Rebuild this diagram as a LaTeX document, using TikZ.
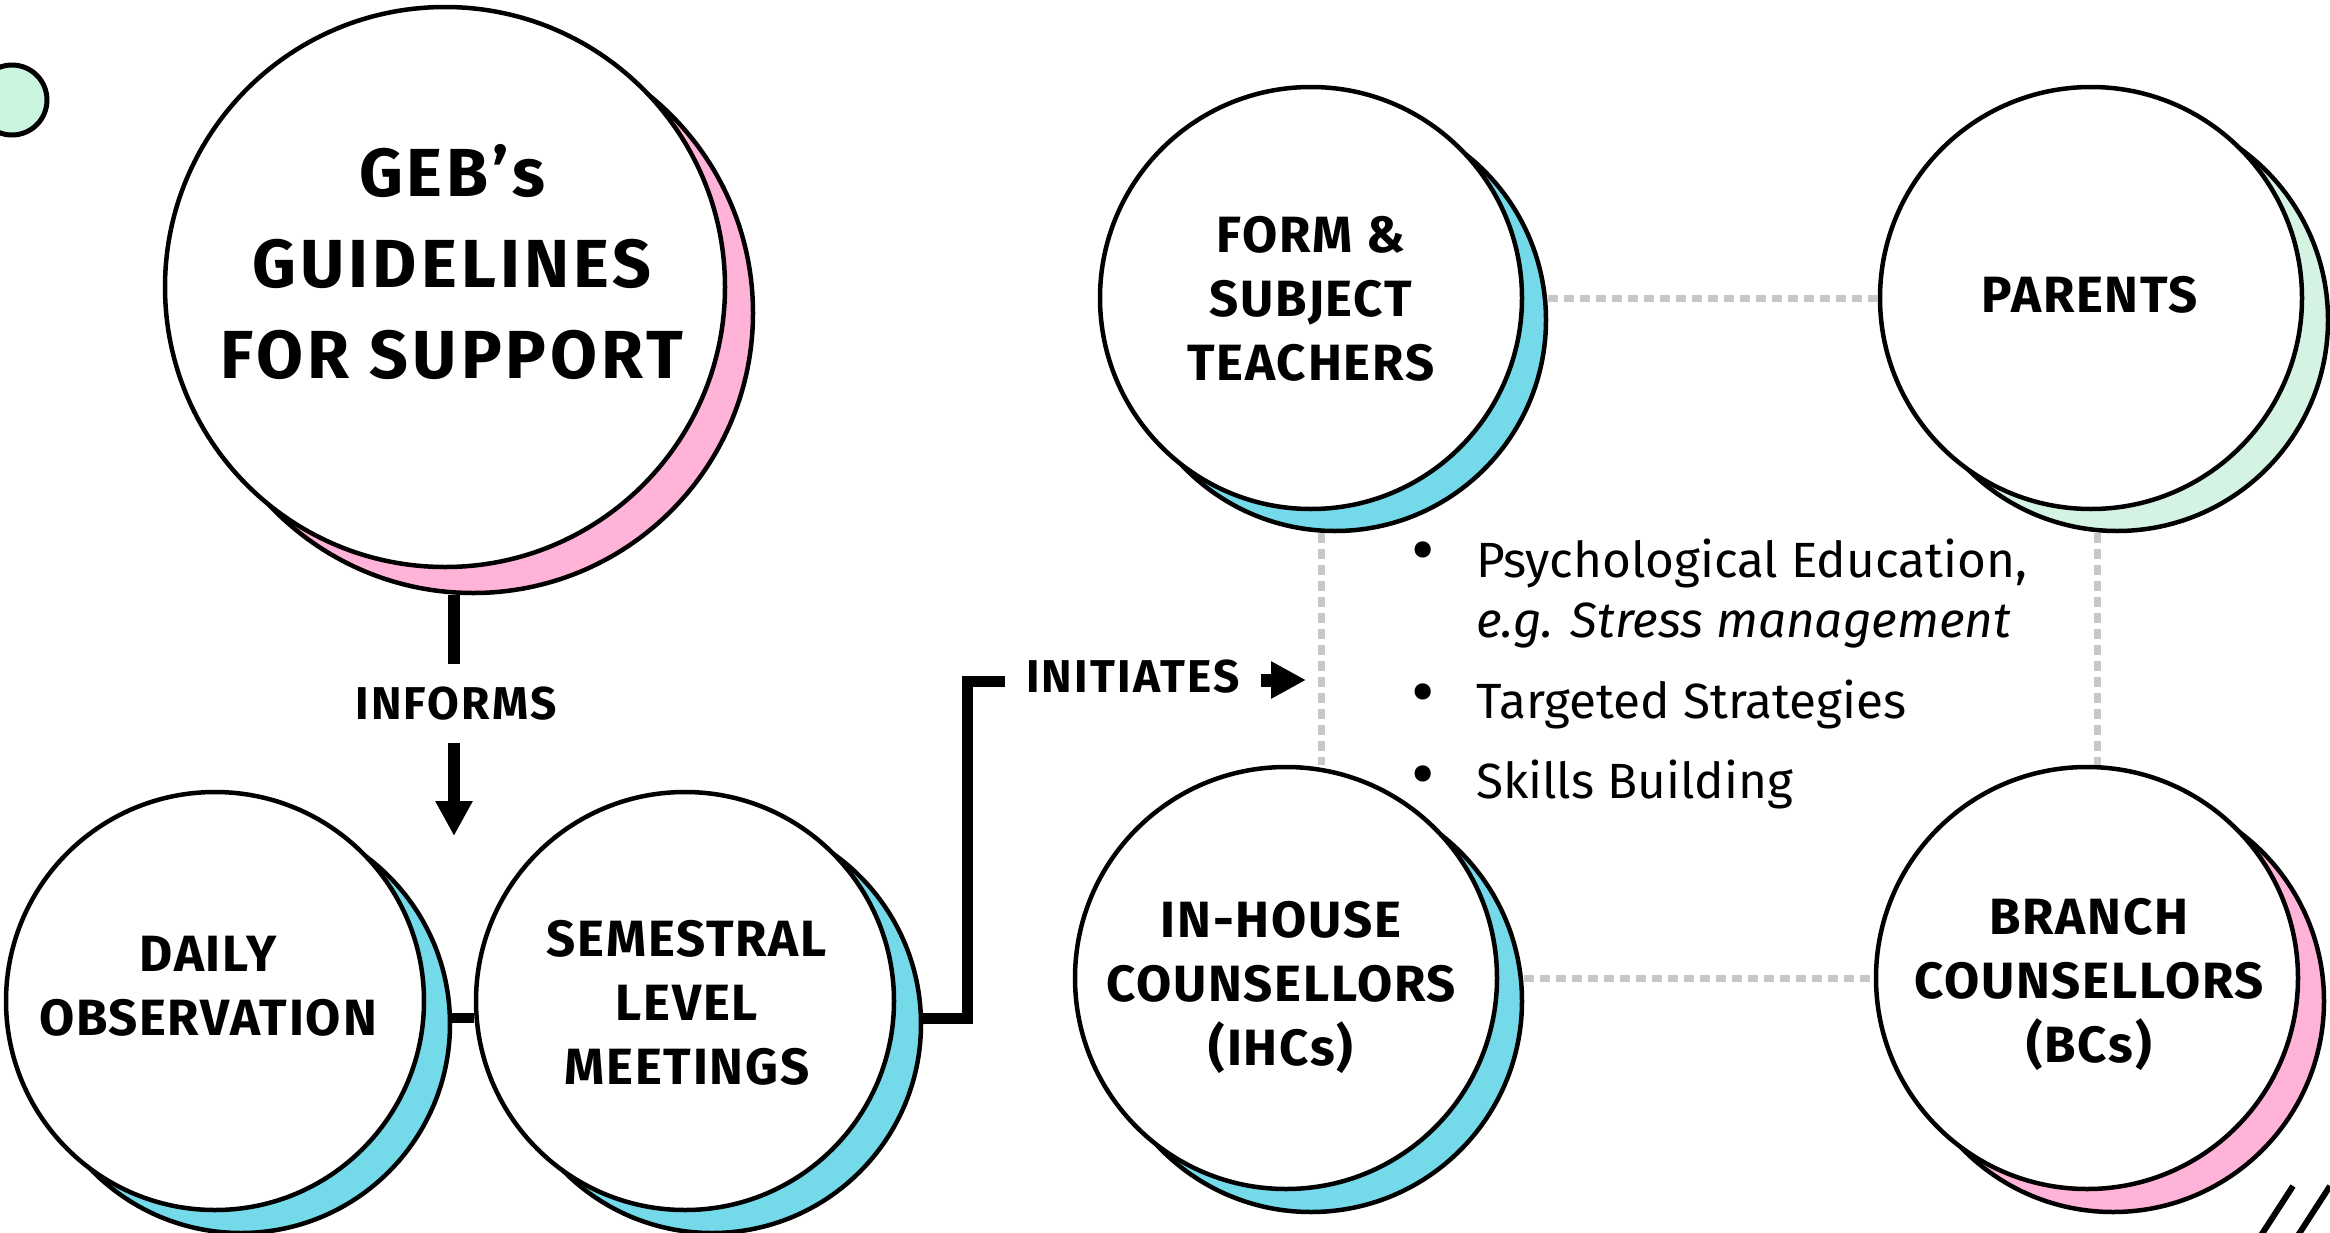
\documentclass[tikz,border=0pt]{standalone}
\usepackage{fontspec}
\setmainfont{Fira Sans}
\usetikzlibrary{arrows.meta}
\definecolor{pinkS}{HTML}{FFB3D9}
\definecolor{blueS}{HTML}{74D9E8}
\definecolor{greenS}{HTML}{D5F3E3}
\definecolor{greenDot}{HTML}{CBF5DF}
\definecolor{grayDot}{HTML}{C8C8C8}
\begin{document}
\begin{tikzpicture}[x=1pt,y=-1pt,
  bub/.style={circle, draw=black, line width=4.5pt, fill=white, inner sep=0pt, minimum size=#1},
  shad/.style={circle, draw=black, line width=4.5pt, inner sep=0pt, minimum size=#1},
  lbl/.style={font=\fontsize{51}{64}\selectfont\bfseries\addfontfeature{LetterSpace=3.5}, align=center, inner sep=0pt},
  biglbl/.style={font=\fontsize{68}{91}\selectfont\bfseries\addfontfeature{LetterSpace=6}, align=center, inner sep=0pt},
  smalllbl/.style={font=\fontsize{46}{55}\selectfont\bfseries\addfontfeature{LetterSpace=5}, inner sep=0pt},
  bullettext/.style={font=\fontsize{49.5}{60}\selectfont, anchor=base west, inner sep=0pt},
  bulletdot/.style={font=\fontsize{72}{72}\selectfont, anchor=center, inner sep=0pt},
  conn/.style={draw=black, line width=11pt, line cap=butt, line join=miter},
  dotline/.style={draw=grayDot, line width=7pt, dash pattern=on 10pt off 6pt}
]
\useasboundingbox (0,0) rectangle (2330,1232);
\clip (0,0) rectangle (2330,1232);
\fill[white] (0,0) rectangle (2330,1232);

% decorative small circle
\node[circle, draw=black, line width=5pt, fill=greenDot, minimum size=70pt, inner sep=0pt] (dot) at (12,100) {};

% shadows
\node[shad=560pt, fill=pinkS] (gebS) at (473,313) {};
\node[shad=418pt, fill=blueS] (dailyS) at (241,1024) {};
\node[shad=418pt, fill=blueS] (semS) at (712,1024) {};
\node[shad=422pt, fill=blueS] (formS) at (1335,320) {};
\node[shad=422pt, fill=greenS] (parentsS) at (2117,320) {};
\node[shad=422pt, fill=blueS] (ihcS) at (1311,1001) {};
\node[shad=422pt, fill=pinkS] (bcS) at (2113,1001) {};

% main circles
\node[bub=560pt] (geb) at (445,287) {};
\node[bub=418pt] (daily) at (215,1001) {};
\node[bub=418pt] (sem) at (685,1001) {};
\node[bub=422pt] (form) at (1311,298) {};
\node[bub=422pt] (parents) at (2091,298) {};
\node[bub=422pt] (ihc) at (1286,978) {};
\node[bub=422pt] (bc) at (2087,978) {};

% texts
\node[biglbl] (gebT) at (452,262) {GEB’s\\GUIDELINES\\FOR SUPPORT};
\node[lbl] (dailyT) at (208,986) {DAILY\\OBSERVATION};
\node[lbl] (semT) at (687,1003) {SEMESTRAL\\LEVEL\\MEETINGS};
\node[lbl] (formT) at (1311,299) {FORM \&\\SUBJECT\\TEACHERS};
\node[lbl] (parentsT) at (2090,295) {PARENTS};
\node[lbl] (ihcT) at (1281,987) {IN-HOUSE\\COUNSELLORS\\(IHCs)};
\node[lbl] (bcT) at (2089,984) {BRANCH\\COUNSELLORS\\(BCs)};

% dotted relations
\draw[dotline] (form.east -| formS.east) -- (parents.west);
\draw[dotline] (ihc.east -| ihcS.east) -- (bc.west);
\draw[dotline] ([xshift=-14pt]formS.south) -- ([xshift=-14pt]formS.south |- ihc.north);
\draw[dotline] ([xshift=-20pt]parentsS.south) -- ([xshift=-20pt]parentsS.south |- bc.north);

% INFORMS
\node[smalllbl, text height=31pt, text depth=0pt, inner ysep=24pt] (informs) at (456,703.5) {INFORMS};
\coordinate (informTip) at (454,836);
\draw[conn, line width=12pt] (informTip |- gebS.south) -- (informTip |- informs.north);
\draw[conn, line width=12pt, -{Triangle[width=35pt,length=35pt]}] (informTip |- informs.south) -- (informTip);

% Daily -- Semestral
\draw[conn, line width=10pt] ([yshift=6pt]dailyS.east) -- ([yshift=6pt]dailyS.east -| sem.west);

% Semestral -> INITIATES
\node[smalllbl, anchor=west, inner xsep=21pt, text height=31pt, text depth=0pt] (initiates) at (1005,677) {INITIATES};
\coordinate (elb) at (967,681);
\coordinate (initTip) at (1306,680);
\draw[conn] ([yshift=6pt]semS.east) -| (elb) -- (initiates.west |- elb);
\draw[conn, line width=13pt, -{Triangle[width=35pt,length=35pt]}] (initiates.east |- initTip) -- (initTip);

% bullet list
\node[bulletdot] (b1) at (1423,558) {•};
\node[bullettext] (t1) at (1476,577) {Psychological Education,};
\node[bullettext] (t1b) at (1476,637) {\itshape e.g. Stress management};
\node[bulletdot] (b2) at (1423,700) {•};
\node[bullettext] (t2) at (1476,718) {Targeted Strategies};
\node[bulletdot] (b3) at (1423,782) {•};
\node[bullettext] (t3) at (1476,798) {Skills Building};

% corner marks
\draw[line width=6pt] (2293,1186) -- (2258,1240);
\draw[line width=6pt] (2330,1186) -- (2295,1240);
\end{tikzpicture}
\end{document}
